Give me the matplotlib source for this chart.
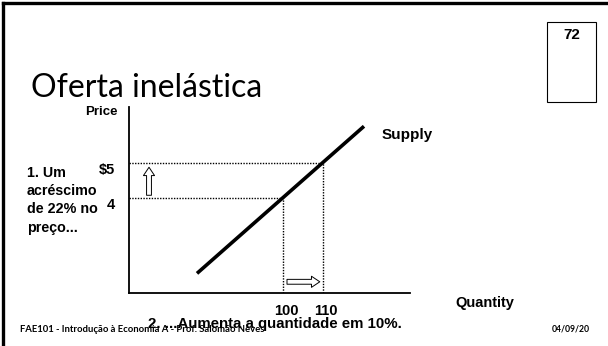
import matplotlib
matplotlib.use("Agg")
import matplotlib.pyplot as plt
from matplotlib.lines import Line2D
from matplotlib.patches import Rectangle
from matplotlib.transforms import ScaledTranslation

W, H = 608, 346

# supply curve (quantity, price)
supply_q = [78.5, 120.25]
supply_p = [1.85, 6.05]

# the two points read on the curve
point_q = [100, 110]
point_p = [4, 5]
price_labels = ["4", "$5"]
qty_labels = ["100", "110"]

# hollow arrows: (start, end)
price_arrow = ((66.5, 4.08), (66.5, 4.88))
qty_arrow = ((101.0, 1.61), (109.2, 1.61))

bold = ["Liberation Sans", "DejaVu Sans"]
gothic = ["Lato", "DejaVu Sans"]


def fx(x):
    return x / W


def fy(y):
    return 1 - y / H


fig = plt.figure(figsize=(W / 100, H / 100), dpi=100)

# slide frame (top and left edges)
fig.add_artist(Line2D([fx(3), fx(W)], [fy(3), fy(3)], color="black", lw=2.4))
fig.add_artist(Line2D([fx(3), fx(3)], [fy(3), fy(H)], color="black", lw=2.4))

# page number box
fig.add_artist(Rectangle((fx(547), fy(102)), (596 - 547) / W, (102 - 22) / H,
                         fill=False, ec="black", lw=0.8))
fig.text(fx(572), fy(35), "72", ha="center", va="center", fontsize=11,
         fontweight="bold", family=bold)

fig.text(fx(31), fy(97), "Oferta inelástica", ha="left", va="baseline",
         fontsize=23, fontweight="normal", family=gothic)

# chart axes
left, right, top, bottom = 129, 410, 107, 293
ax = fig.add_axes([fx(left), fy(bottom), (right - left) / W, (bottom - top) / H])
ax.set_xlim(61.5, 131.75)
ax.set_ylim(1.29, 6.6)
ax.patch.set_alpha(0)
for s in ["top", "right"]:
    ax.spines[s].set_visible(False)
ax.spines["left"].set_linewidth(1.3)
ax.spines["bottom"].set_linewidth(1.3)

ax.plot(supply_q, supply_p, color="black", lw=2.6, solid_capstyle="butt")

x0, y0 = ax.get_xlim()[0], ax.get_ylim()[0]
for q, p in zip(point_q, point_p):
    ax.plot([x0, q], [p, p], color="black", lw=1.0, ls=(0, (1, 1)))
    ax.plot([q, q], [y0, p], color="black", lw=1.0, ls=(0, (1, 1)))

arrow_style = "simple,head_width=0.8,head_length=0.6,tail_width=0.35"
for a, b in [price_arrow, qty_arrow]:
    ax.annotate("", xy=b, xytext=a,
                arrowprops=dict(arrowstyle=arrow_style, fc="white", ec="black",
                                lw=0.7, shrinkA=0, shrinkB=0))

ax.set_xticks(point_q)
ax.set_xticklabels(qty_labels)
ax.set_yticks(point_p)
ax.set_yticklabels(price_labels)
ax.tick_params(axis="x", length=0, pad=8)
ax.tick_params(axis="y", length=0, pad=10)
for t in ax.get_xticklabels() + ax.get_yticklabels():
    t.set_fontsize(10.5)
    t.set_fontweight("bold")
    t.set_family(bold)
# labels sit a little right of their dotted lines
shift = ScaledTranslation(3 / 100, 0, fig.dpi_scale_trans)
for t in ax.get_xticklabels():
    t.set_transform(t.get_transform() + shift)
for t in ax.get_yticklabels():
    t.set_va("top")

fig.text(fx(118), fy(112), "Price", ha="right", va="center", fontsize=9.5,
         fontweight="bold", family=bold)
fig.text(fx(382), fy(135), "Supply", ha="left", va="center", fontsize=11,
         fontweight="bold", family=bold)
fig.text(fx(455), fy(303), "Quantity", ha="left", va="center", fontsize=10.5,
         fontweight="bold", family=bold)
fig.text(fx(27), fy(166), "1. Um\nacréscimo\nde 22% no\npreço...", ha="left",
         va="top", fontsize=10.3, fontweight="bold", family=bold, linespacing=1.38)
fig.text(fx(275), fy(324), "2. ...Aumenta a quantidade em 10%.", ha="center",
         va="center", fontsize=10.8, fontweight="bold", family=bold)

fig.text(fx(20), fy(329), "FAE101 - Introdução à Economia A - Prof. Salomão Neves",
         ha="left", va="center", fontsize=6.8, fontweight="bold", family=gothic)
fig.text(fx(590), fy(329), "04/09/20", ha="right", va="center", fontsize=6.2,
         fontweight="bold", family=gothic)

fig.savefig("out.png", dpi=100)
